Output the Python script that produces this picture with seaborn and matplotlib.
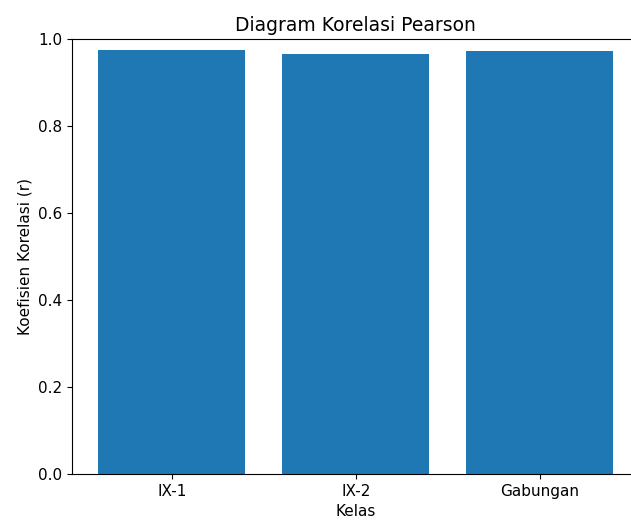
import matplotlib
matplotlib.use("Agg")
import matplotlib.pyplot as plt
import seaborn as sns
import pandas as pd

kelas = ["IX-1", "IX-2", "Gabungan"]
koefisien_r = [0.975, 0.966, 0.972]

df = pd.DataFrame({"Kelas": kelas, "r": koefisien_r})

plt.rcParams["font.size"] = 11
fig = plt.figure(figsize=(6.31, 5.23), dpi=100)
# axes runs slightly past the right edge, like the cropped original
ax = fig.add_axes([0.1141, 0.094, 0.8994, 0.831])

sns.barplot(data=df, x="Kelas", y="r", color="#1f77b4", saturation=1, width=0.8, ax=ax)
ax.set_xlim(-0.544, 2.544)
ax.set_ylim(0, 1.0)
ax.tick_params(labelsize=11)
ax.set_title("Diagram Korelasi Pearson", fontsize=13.5)
ax.set_xlabel("Kelas", fontsize=11)
ax.set_ylabel("Koefisien Korelasi (r)", fontsize=11)

fig.savefig("out.png", dpi=100)
